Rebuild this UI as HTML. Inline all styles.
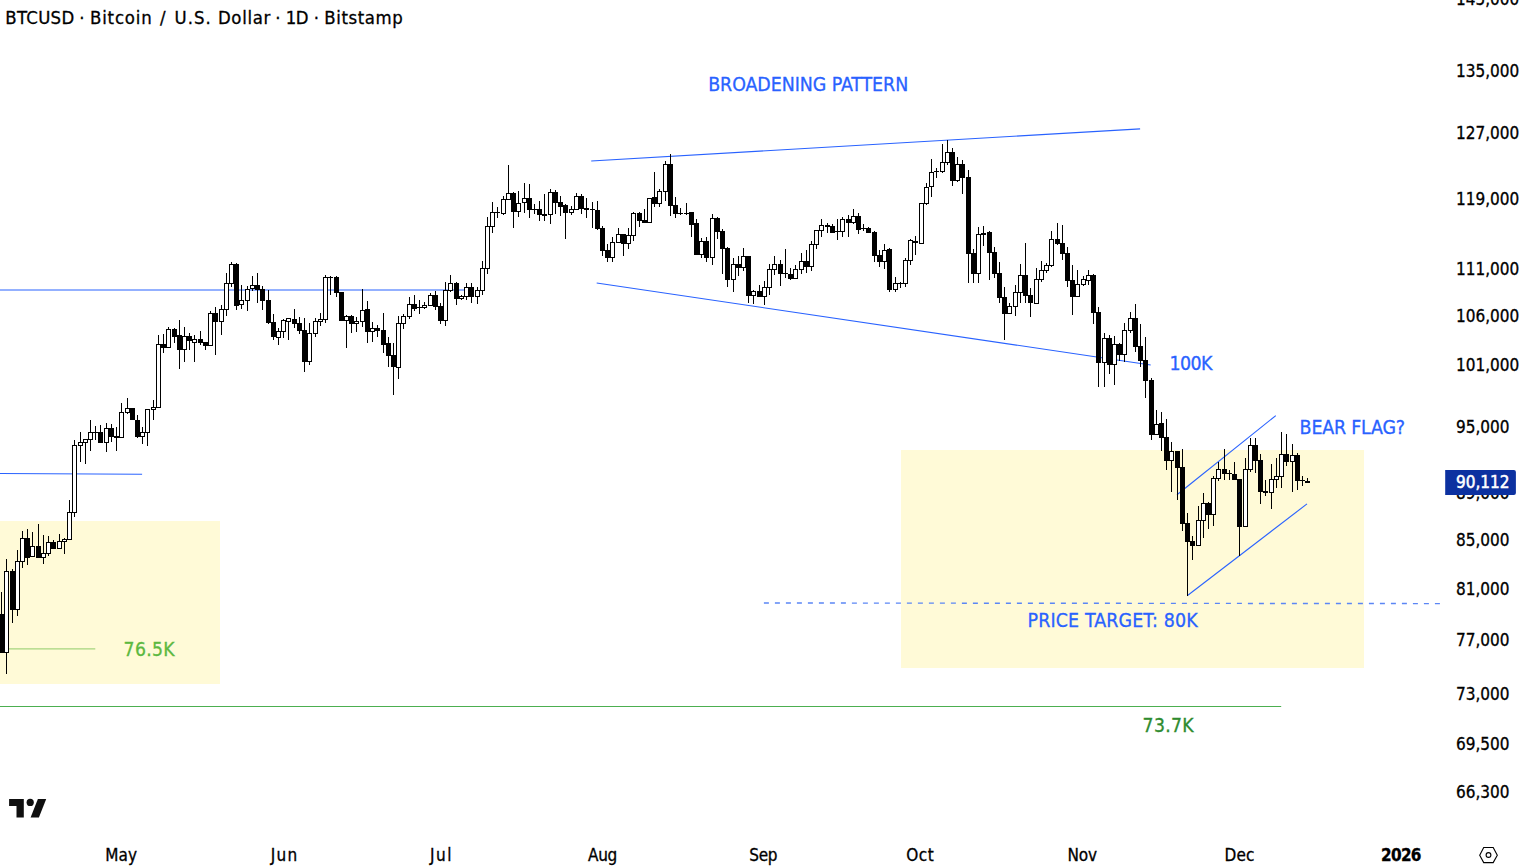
<!DOCTYPE html>
<html><head><meta charset="utf-8"><title>BTCUSD chart</title>
<style>
html,body{margin:0;padding:0;background:#fff;}
body{width:1523px;height:868px;overflow:hidden;position:relative;}
svg{display:block;position:absolute;left:0;top:0;}
</style></head><body>
<svg width="1523" height="868" viewBox="0 0 1523 868"><rect x="0" y="521" width="220" height="163" fill="#fffad7"/><rect x="901" y="450" width="463" height="218" fill="#fffad7"/><line x1="0" y1="290.0" x2="466" y2="290.0" stroke="#2962ff" stroke-width="1"/><line x1="0" y1="473.45" x2="142.1" y2="474.3" stroke="#2962ff" stroke-width="1.15"/><g stroke="#2962ff" stroke-width="1.1" fill="none"><line x1="591.2" y1="161.0" x2="1140.1" y2="128.9"/><line x1="596.7" y1="283.0" x2="1150.7" y2="365.0"/><line x1="1177" y1="494.8" x2="1275.8" y2="415.6"/><line x1="1187.2" y1="595.7" x2="1307" y2="503.9"/></g><line x1="763.9" y1="603.0" x2="1440.5" y2="603.6" stroke="#5b86f5" stroke-width="1.4" stroke-dasharray="5 6"/><line x1="0" y1="648.9" x2="95.3" y2="648.9" stroke="#a6d47e" stroke-width="1.4"/><line x1="0" y1="706.5" x2="1281.2" y2="706.5" stroke="#4caf50" stroke-width="1"/><path d="M1.50 592.00V653.00M6.50 559.00V674.00M12.50 569.00V623.00M17.50 550.00V616.00M22.50 531.00V568.00M27.50 529.00V565.00M32.50 532.00V557.00M38.50 524.00V558.00M43.50 535.00V564.00M48.50 536.00V556.00M53.50 540.00V549.00M59.50 534.00V548.00M64.50 538.00V554.00M69.50 500.00V540.00M74.50 440.00V517.00M80.50 432.00V462.00M85.50 440.00V464.00M90.50 420.00V451.00M95.50 426.00V440.00M100.50 425.00V442.00M106.50 423.00V452.00M111.50 424.00V442.00M116.50 427.00V451.00M121.50 403.00V438.00M127.50 398.00V414.00M132.50 408.00V420.00M137.50 415.00V438.00M142.50 427.00V444.00M147.50 409.00V446.00M153.50 400.00V420.00M158.50 335.00V407.00M163.50 334.00V353.00M168.50 327.00V347.00M174.50 328.00V343.00M179.50 320.00V369.00M184.50 327.00V362.00M189.50 333.00V350.00M194.50 335.00V362.00M200.50 331.00V345.00M205.50 342.00V350.00M210.50 311.00V346.00M215.50 307.00V355.00M221.50 305.00V335.00M226.50 273.00V316.00M231.50 262.00V287.00M236.50 263.00V310.00M241.50 285.00V309.00M247.50 286.00V311.00M252.50 276.00V291.00M257.50 273.00V303.00M262.50 286.00V310.00M268.50 290.00V324.00M273.50 314.00V340.00M278.50 328.00V345.00M283.50 319.00V338.00M288.50 318.00V340.00M294.50 309.00V328.00M299.50 317.00V334.00M304.50 318.00V372.00M309.50 323.00V365.00M315.50 318.00V337.00M320.50 313.00V326.00M325.50 275.00V323.00M330.50 276.00V295.00M336.50 276.00V297.00M341.50 292.00V321.00M346.50 315.00V348.00M351.50 315.00V333.00M356.50 317.00V332.00M362.50 289.00V327.00M367.50 301.00V343.00M372.50 322.00V342.00M377.50 325.00V337.00M383.50 313.00V353.00M388.50 337.00V367.00M393.50 343.00V395.00M398.50 316.00V379.00M403.50 314.00V329.00M409.50 297.00V319.00M414.50 295.00V311.00M419.50 300.00V314.00M424.50 302.00V309.00M430.50 293.00V305.00M435.50 291.00V310.00M440.50 303.00V324.00M445.50 282.00V326.00M450.50 275.00V292.00M456.50 282.00V305.00M461.50 295.00V300.00M466.50 283.00V300.00M471.50 283.00V303.00M477.50 287.00V304.00M482.50 261.00V295.00M487.50 217.00V274.00M492.50 202.00V233.00M497.50 207.00V218.00M503.50 196.00V215.00M508.50 165.00V199.00M513.50 192.00V228.00M518.50 191.00V217.00M524.50 183.00V213.00M529.50 184.00V218.00M534.50 204.00V214.00M539.50 201.00V221.00M544.50 194.00V221.00M550.50 189.00V224.00M555.50 190.00V214.00M560.50 196.00V216.00M565.50 204.00V239.00M571.50 206.00V215.00M576.50 193.00V210.00M581.50 194.00V214.00M586.50 198.00V218.00M592.50 202.00V228.00M597.50 201.00V230.00M602.50 226.00V256.00M607.50 244.00V262.00M612.50 237.00V262.00M618.50 228.00V242.00M623.50 234.00V256.00M628.50 228.00V249.00M633.50 212.00V241.00M639.50 212.00V227.00M644.50 209.00V222.00M649.50 198.00V222.00M654.50 172.00V207.00M659.50 189.00V207.00M665.50 161.00V201.00M670.50 154.00V216.00M675.50 197.00V218.00M680.50 208.00V215.00M686.50 203.00V215.00M691.50 213.00V237.00M696.50 219.00V255.00M701.50 238.00V258.00M706.50 237.00V262.00M712.50 214.00V265.00M717.50 217.00V239.00M722.50 229.00V274.00M727.50 247.00V287.00M733.50 258.00V292.00M738.50 256.00V276.00M743.50 248.00V271.00M748.50 256.00V303.00M753.50 290.00V304.00M759.50 285.00V297.00M764.50 281.00V305.00M769.50 264.00V295.00M774.50 256.00V275.00M780.50 260.00V286.00M785.50 249.00V278.00M790.50 268.00V280.00M795.50 265.00V279.00M801.50 253.00V274.00M806.50 250.00V273.00M811.50 241.00V271.00M816.50 230.00V249.00M821.50 219.00V237.00M827.50 223.00V233.00M832.50 224.00V233.00M837.50 219.00V240.00M842.50 217.00V237.00M848.50 215.00V237.00M853.50 209.00V224.00M858.50 213.00V234.00M863.50 224.00V231.00M868.50 227.00V233.00M874.50 231.00V262.00M879.50 250.00V267.00M884.50 244.00V269.00M889.50 248.00V292.00M895.50 277.00V292.00M900.50 282.00V288.00M905.50 258.00V287.00M910.50 239.00V265.00M915.50 236.00V255.00M921.50 203.00V243.00M926.50 183.00V205.00M931.50 159.00V197.00M936.50 168.00V178.00M942.50 144.00V173.00M947.50 140.00V165.00M952.50 148.00V186.00M957.50 157.00V182.00M962.50 160.00V194.00M968.50 170.00V283.00M973.50 249.00V283.00M978.50 227.00V283.00M983.50 226.00V246.00M989.50 231.00V280.00M994.50 247.00V278.00M999.50 262.00V303.00M1004.50 287.00V340.00M1009.50 303.00V314.00M1015.50 285.00V316.00M1020.50 264.00V303.00M1025.50 243.00V303.00M1030.50 288.00V317.00M1036.50 268.00V303.00M1041.50 261.00V282.00M1046.50 263.00V273.00M1051.50 231.00V267.00M1057.50 223.00V245.00M1062.50 225.00V260.00M1067.50 247.00V287.00M1072.50 265.00V315.00M1077.50 270.00V297.00M1083.50 276.00V286.00M1088.50 270.00V285.00M1093.50 274.00V324.00M1098.50 307.00V387.00M1104.50 333.00V387.00M1109.50 335.00V374.00M1114.50 336.00V385.00M1119.50 343.00V361.00M1124.50 323.00V362.00M1130.50 312.00V333.00M1135.50 304.00V352.00M1140.50 324.00V367.00M1145.50 337.00V398.00M1151.50 378.00V440.00M1156.50 410.00V434.00M1161.50 412.00V451.00M1166.50 419.00V470.00M1171.50 442.00V492.00M1177.50 451.00V500.00M1182.50 449.00V531.00M1187.50 513.00V596.00M1192.50 536.00V560.00M1198.50 506.00V546.00M1203.50 493.00V538.00M1208.50 502.00V529.00M1213.50 476.00V526.00M1218.50 462.00V481.00M1224.50 449.00V480.00M1229.50 470.00V480.00M1234.50 462.00V479.00M1239.50 479.00V556.00M1245.50 458.00V526.00M1250.50 438.00V472.00M1255.50 438.00V473.00M1260.50 454.00V504.00M1265.50 480.00V496.00M1271.50 464.00V509.00M1276.50 458.00V488.00M1281.50 432.00V488.00M1286.50 434.00V466.00M1292.50 444.00V492.00M1297.50 453.00V490.00M1302.50 476.00V486.00M1307.50 478.00V483.00" stroke="#000" stroke-width="1" fill="none"/><g fill="#000"><rect x="-1.00" y="614.00" width="5.00" height="39.00"/><rect x="10.00" y="571.00" width="5.00" height="39.00"/><rect x="25.00" y="538.00" width="5.00" height="20.00"/><rect x="36.00" y="546.00" width="5.00" height="12.00"/><rect x="51.00" y="542.00" width="5.00" height="7.00"/><rect x="93.00" y="432.00" width="5.00" height="1.00"/><rect x="98.00" y="432.00" width="5.00" height="11.00"/><rect x="109.00" y="428.00" width="5.00" height="9.00"/><rect x="114.00" y="436.00" width="5.00" height="2.00"/><rect x="130.00" y="408.00" width="5.00" height="12.00"/><rect x="135.00" y="420.00" width="5.00" height="17.00"/><rect x="161.00" y="344.00" width="5.00" height="4.00"/><rect x="172.00" y="329.00" width="5.00" height="8.00"/><rect x="177.00" y="335.00" width="5.00" height="15.00"/><rect x="187.00" y="336.00" width="5.00" height="5.00"/><rect x="198.00" y="339.00" width="5.00" height="4.00"/><rect x="203.00" y="342.00" width="5.00" height="4.00"/><rect x="213.00" y="313.00" width="5.00" height="9.00"/><rect x="234.00" y="264.00" width="5.00" height="42.00"/><rect x="255.00" y="285.00" width="5.00" height="5.00"/><rect x="260.00" y="289.00" width="5.00" height="12.00"/><rect x="266.00" y="300.00" width="5.00" height="23.00"/><rect x="271.00" y="322.00" width="5.00" height="15.00"/><rect x="292.00" y="319.00" width="5.00" height="5.00"/><rect x="297.00" y="323.00" width="5.00" height="8.00"/><rect x="302.00" y="330.00" width="5.00" height="32.00"/><rect x="334.00" y="277.00" width="5.00" height="16.00"/><rect x="339.00" y="292.00" width="5.00" height="29.00"/><rect x="349.00" y="316.00" width="5.00" height="8.00"/><rect x="365.00" y="309.00" width="5.00" height="23.00"/><rect x="375.00" y="328.00" width="5.00" height="3.00"/><rect x="381.00" y="330.00" width="5.00" height="15.00"/><rect x="386.00" y="343.00" width="5.00" height="13.00"/><rect x="391.00" y="355.00" width="5.00" height="12.00"/><rect x="412.00" y="304.00" width="5.00" height="5.00"/><rect x="417.00" y="307.00" width="5.00" height="1.00"/><rect x="433.00" y="295.00" width="5.00" height="12.00"/><rect x="438.00" y="306.00" width="5.00" height="15.00"/><rect x="454.00" y="283.00" width="5.00" height="16.00"/><rect x="469.00" y="287.00" width="5.00" height="10.00"/><rect x="511.00" y="193.00" width="5.00" height="19.00"/><rect x="527.00" y="198.00" width="5.00" height="12.00"/><rect x="532.00" y="209.00" width="5.00" height="1.00"/><rect x="537.00" y="209.00" width="5.00" height="6.00"/><rect x="542.00" y="214.00" width="5.00" height="2.00"/><rect x="553.00" y="192.00" width="5.00" height="11.00"/><rect x="558.00" y="202.00" width="5.00" height="5.00"/><rect x="563.00" y="205.00" width="5.00" height="8.00"/><rect x="579.00" y="196.00" width="5.00" height="13.00"/><rect x="584.00" y="208.00" width="5.00" height="2.00"/><rect x="590.00" y="209.00" width="5.00" height="1.00"/><rect x="595.00" y="210.00" width="5.00" height="19.00"/><rect x="600.00" y="228.00" width="5.00" height="23.00"/><rect x="605.00" y="250.00" width="5.00" height="8.00"/><rect x="621.00" y="234.00" width="5.00" height="10.00"/><rect x="637.00" y="213.00" width="5.00" height="8.00"/><rect x="642.00" y="220.00" width="5.00" height="3.00"/><rect x="652.00" y="197.00" width="5.00" height="7.00"/><rect x="668.00" y="164.00" width="5.00" height="42.00"/><rect x="673.00" y="205.00" width="5.00" height="9.00"/><rect x="678.00" y="213.00" width="5.00" height="1.00"/><rect x="684.00" y="213.00" width="5.00" height="1.00"/><rect x="689.00" y="212.00" width="5.00" height="13.00"/><rect x="694.00" y="223.00" width="5.00" height="32.00"/><rect x="704.00" y="241.00" width="5.00" height="17.00"/><rect x="715.00" y="218.00" width="5.00" height="14.00"/><rect x="720.00" y="231.00" width="5.00" height="18.00"/><rect x="725.00" y="248.00" width="5.00" height="32.00"/><rect x="736.00" y="264.00" width="5.00" height="4.00"/><rect x="746.00" y="256.00" width="5.00" height="40.00"/><rect x="757.00" y="291.00" width="5.00" height="6.00"/><rect x="778.00" y="264.00" width="5.00" height="10.00"/><rect x="783.00" y="273.00" width="5.00" height="1.00"/><rect x="788.00" y="274.00" width="5.00" height="5.00"/><rect x="804.00" y="261.00" width="5.00" height="6.00"/><rect x="825.00" y="225.00" width="5.00" height="2.00"/><rect x="830.00" y="226.00" width="5.00" height="7.00"/><rect x="835.00" y="231.00" width="5.00" height="1.00"/><rect x="846.00" y="219.00" width="5.00" height="4.00"/><rect x="856.00" y="216.00" width="5.00" height="14.00"/><rect x="861.00" y="228.00" width="5.00" height="1.00"/><rect x="866.00" y="228.00" width="5.00" height="5.00"/><rect x="872.00" y="232.00" width="5.00" height="24.00"/><rect x="877.00" y="255.00" width="5.00" height="7.00"/><rect x="887.00" y="249.00" width="5.00" height="41.00"/><rect x="913.00" y="241.00" width="5.00" height="2.00"/><rect x="950.00" y="152.00" width="5.00" height="29.00"/><rect x="960.00" y="164.00" width="5.00" height="14.00"/><rect x="966.00" y="177.00" width="5.00" height="77.00"/><rect x="971.00" y="253.00" width="5.00" height="21.00"/><rect x="981.00" y="233.00" width="5.00" height="2.00"/><rect x="987.00" y="232.00" width="5.00" height="21.00"/><rect x="992.00" y="252.00" width="5.00" height="22.00"/><rect x="997.00" y="273.00" width="5.00" height="25.00"/><rect x="1002.00" y="297.00" width="5.00" height="17.00"/><rect x="1023.00" y="275.00" width="5.00" height="21.00"/><rect x="1028.00" y="295.00" width="5.00" height="8.00"/><rect x="1055.00" y="239.00" width="5.00" height="5.00"/><rect x="1060.00" y="243.00" width="5.00" height="11.00"/><rect x="1065.00" y="253.00" width="5.00" height="28.00"/><rect x="1070.00" y="280.00" width="5.00" height="17.00"/><rect x="1091.00" y="275.00" width="5.00" height="38.00"/><rect x="1096.00" y="312.00" width="5.00" height="51.00"/><rect x="1107.00" y="338.00" width="5.00" height="27.00"/><rect x="1117.00" y="344.00" width="5.00" height="11.00"/><rect x="1133.00" y="318.00" width="5.00" height="29.00"/><rect x="1138.00" y="346.00" width="5.00" height="15.00"/><rect x="1143.00" y="360.00" width="5.00" height="21.00"/><rect x="1149.00" y="380.00" width="5.00" height="55.00"/><rect x="1159.00" y="423.00" width="5.00" height="15.00"/><rect x="1164.00" y="437.00" width="5.00" height="24.00"/><rect x="1175.00" y="451.00" width="5.00" height="17.00"/><rect x="1180.00" y="467.00" width="5.00" height="57.00"/><rect x="1185.00" y="523.00" width="5.00" height="19.00"/><rect x="1190.00" y="541.00" width="5.00" height="5.00"/><rect x="1206.00" y="503.00" width="5.00" height="12.00"/><rect x="1222.00" y="469.00" width="5.00" height="5.00"/><rect x="1227.00" y="473.00" width="5.00" height="1.00"/><rect x="1232.00" y="474.00" width="5.00" height="6.00"/><rect x="1237.00" y="479.00" width="5.00" height="48.00"/><rect x="1253.00" y="445.00" width="5.00" height="16.00"/><rect x="1258.00" y="460.00" width="5.00" height="32.00"/><rect x="1263.00" y="491.00" width="5.00" height="2.00"/><rect x="1284.00" y="454.00" width="5.00" height="8.00"/><rect x="1295.00" y="455.00" width="5.00" height="26.00"/><rect x="1305.00" y="481.00" width="5.00" height="2.00"/></g><g fill="#fff" stroke="#000" stroke-width="1.0"><rect x="4.50" y="571.50" width="4.00" height="81.00"/><rect x="15.50" y="561.50" width="4.00" height="48.00"/><rect x="20.50" y="538.50" width="4.00" height="23.00"/><rect x="30.50" y="546.50" width="4.00" height="10.00"/><rect x="41.50" y="553.50" width="4.00" height="4.00"/><rect x="46.50" y="542.50" width="4.00" height="11.00"/><rect x="57.50" y="541.50" width="4.00" height="7.00"/><rect x="62.50" y="539.50" width="4.00" height="2.00"/><rect x="67.50" y="512.50" width="4.00" height="27.00"/><rect x="72.50" y="445.50" width="4.00" height="67.00"/><rect x="78.50" y="442.50" width="4.00" height="3.00"/><rect x="83.50" y="439.50" width="4.00" height="3.00"/><rect x="88.50" y="432.50" width="4.00" height="7.00"/><rect x="104.50" y="428.50" width="4.00" height="14.00"/><rect x="119.50" y="412.50" width="4.00" height="25.00"/><rect x="125.50" y="408.50" width="4.00" height="4.00"/><rect x="140.50" y="432.50" width="4.00" height="4.00"/><rect x="145.50" y="409.50" width="4.00" height="23.00"/><rect x="151.50" y="407.50" width="4.00" height="2.00"/><rect x="156.50" y="344.50" width="4.00" height="63.00"/><rect x="166.50" y="329.50" width="4.00" height="18.00"/><rect x="182.50" y="336.50" width="4.00" height="13.00"/><rect x="192.50" y="339.50" width="4.00" height="3.00"/><rect x="208.50" y="313.50" width="4.00" height="32.00"/><rect x="219.50" y="309.50" width="4.00" height="12.00"/><rect x="224.50" y="283.50" width="4.00" height="26.00"/><rect x="229.50" y="264.50" width="4.00" height="19.00"/><rect x="239.50" y="300.50" width="4.00" height="4.00"/><rect x="245.50" y="289.50" width="4.00" height="11.00"/><rect x="250.50" y="285.50" width="4.00" height="3.00"/><rect x="276.50" y="331.50" width="4.00" height="6.00"/><rect x="281.50" y="320.50" width="4.00" height="11.00"/><rect x="286.50" y="318.50" width="4.00" height="3.00"/><rect x="307.50" y="333.50" width="4.00" height="28.00"/><rect x="313.50" y="321.50" width="4.00" height="12.00"/><rect x="318.50" y="319.50" width="4.00" height="2.00"/><rect x="323.50" y="277.50" width="4.00" height="42.00"/><rect x="328.50" y="277.50" width="4.00" height="0.01"/><rect x="344.50" y="316.50" width="4.00" height="4.00"/><rect x="354.50" y="321.50" width="4.00" height="2.00"/><rect x="360.50" y="310.50" width="4.00" height="11.00"/><rect x="370.50" y="328.50" width="4.00" height="3.00"/><rect x="396.50" y="323.50" width="4.00" height="44.00"/><rect x="401.50" y="316.50" width="4.00" height="7.00"/><rect x="407.50" y="304.50" width="4.00" height="12.00"/><rect x="422.50" y="305.50" width="4.00" height="2.00"/><rect x="428.50" y="295.50" width="4.00" height="10.00"/><rect x="443.50" y="290.50" width="4.00" height="30.00"/><rect x="448.50" y="283.50" width="4.00" height="7.00"/><rect x="459.50" y="296.50" width="4.00" height="2.00"/><rect x="464.50" y="287.50" width="4.00" height="9.00"/><rect x="475.50" y="290.50" width="4.00" height="6.00"/><rect x="480.50" y="268.50" width="4.00" height="22.00"/><rect x="485.50" y="226.50" width="4.00" height="42.00"/><rect x="490.50" y="212.50" width="4.00" height="14.00"/><rect x="495.50" y="212.50" width="4.00" height="0.01"/><rect x="501.50" y="199.50" width="4.00" height="14.00"/><rect x="506.50" y="193.50" width="4.00" height="6.00"/><rect x="516.50" y="203.50" width="4.00" height="8.00"/><rect x="522.50" y="198.50" width="4.00" height="4.00"/><rect x="548.50" y="192.50" width="4.00" height="22.00"/><rect x="569.50" y="209.50" width="4.00" height="3.00"/><rect x="574.50" y="196.50" width="4.00" height="13.00"/><rect x="610.50" y="242.50" width="4.00" height="15.00"/><rect x="616.50" y="234.50" width="4.00" height="8.00"/><rect x="626.50" y="235.50" width="4.00" height="8.00"/><rect x="631.50" y="213.50" width="4.00" height="22.00"/><rect x="647.50" y="198.50" width="4.00" height="24.00"/><rect x="657.50" y="191.50" width="4.00" height="12.00"/><rect x="663.50" y="164.50" width="4.00" height="27.00"/><rect x="699.50" y="241.50" width="4.00" height="13.00"/><rect x="710.50" y="218.50" width="4.00" height="39.00"/><rect x="731.50" y="264.50" width="4.00" height="15.00"/><rect x="741.50" y="256.50" width="4.00" height="11.00"/><rect x="751.50" y="291.50" width="4.00" height="4.00"/><rect x="762.50" y="287.50" width="4.00" height="9.00"/><rect x="767.50" y="269.50" width="4.00" height="18.00"/><rect x="772.50" y="264.50" width="4.00" height="5.00"/><rect x="793.50" y="269.50" width="4.00" height="9.00"/><rect x="799.50" y="261.50" width="4.00" height="8.00"/><rect x="809.50" y="244.50" width="4.00" height="22.00"/><rect x="814.50" y="230.50" width="4.00" height="14.00"/><rect x="819.50" y="225.50" width="4.00" height="5.00"/><rect x="840.50" y="219.50" width="4.00" height="12.00"/><rect x="851.50" y="216.50" width="4.00" height="6.00"/><rect x="882.50" y="250.50" width="4.00" height="11.00"/><rect x="893.50" y="283.50" width="4.00" height="6.00"/><rect x="898.50" y="283.50" width="4.00" height="0.01"/><rect x="903.50" y="260.50" width="4.00" height="23.00"/><rect x="908.50" y="240.50" width="4.00" height="20.00"/><rect x="919.50" y="203.50" width="4.00" height="40.00"/><rect x="924.50" y="187.50" width="4.00" height="16.00"/><rect x="929.50" y="172.50" width="4.00" height="14.00"/><rect x="934.50" y="171.50" width="4.00" height="0.01"/><rect x="940.50" y="162.50" width="4.00" height="9.00"/><rect x="945.50" y="152.50" width="4.00" height="10.00"/><rect x="955.50" y="164.50" width="4.00" height="16.00"/><rect x="976.50" y="234.50" width="4.00" height="39.00"/><rect x="1007.50" y="306.50" width="4.00" height="7.00"/><rect x="1013.50" y="292.50" width="4.00" height="14.00"/><rect x="1018.50" y="275.50" width="4.00" height="17.00"/><rect x="1034.50" y="279.50" width="4.00" height="24.00"/><rect x="1039.50" y="270.50" width="4.00" height="9.00"/><rect x="1044.50" y="265.50" width="4.00" height="5.00"/><rect x="1049.50" y="239.50" width="4.00" height="26.00"/><rect x="1075.50" y="284.50" width="4.00" height="12.00"/><rect x="1081.50" y="279.50" width="4.00" height="5.00"/><rect x="1086.50" y="275.50" width="4.00" height="5.00"/><rect x="1102.50" y="338.50" width="4.00" height="24.00"/><rect x="1112.50" y="344.50" width="4.00" height="20.00"/><rect x="1122.50" y="330.50" width="4.00" height="24.00"/><rect x="1128.50" y="318.50" width="4.00" height="12.00"/><rect x="1154.50" y="424.50" width="4.00" height="10.00"/><rect x="1169.50" y="451.50" width="4.00" height="9.00"/><rect x="1196.50" y="520.50" width="4.00" height="25.00"/><rect x="1201.50" y="503.50" width="4.00" height="17.00"/><rect x="1211.50" y="478.50" width="4.00" height="36.00"/><rect x="1216.50" y="469.50" width="4.00" height="9.00"/><rect x="1243.50" y="469.50" width="4.00" height="57.00"/><rect x="1248.50" y="445.50" width="4.00" height="24.00"/><rect x="1269.50" y="479.50" width="4.00" height="13.00"/><rect x="1274.50" y="476.50" width="4.00" height="3.00"/><rect x="1279.50" y="454.50" width="4.00" height="22.00"/><rect x="1290.50" y="455.50" width="4.00" height="6.00"/><rect x="1300.50" y="480.50" width="4.00" height="0.01"/></g><text x="708.2" y="91.2" style="font-family:'DejaVu Sans',sans-serif;font-stretch:condensed;font-size:19.4px;font-weight:normal;" fill="#2962ff" stroke="#2962ff" stroke-width="0.3" text-anchor="start" textLength="200" >BROADENING PATTERN</text><text x="1169.4" y="369.9" style="font-family:'DejaVu Sans',sans-serif;font-stretch:condensed;font-size:19.4px;font-weight:normal;" fill="#2962ff" stroke="#2962ff" stroke-width="0.3" text-anchor="start" textLength="43" >100K</text><text x="1299.6" y="434" style="font-family:'DejaVu Sans',sans-serif;font-stretch:condensed;font-size:19.4px;font-weight:normal;" fill="#2962ff" stroke="#2962ff" stroke-width="0.3" text-anchor="start" textLength="105.5" >BEAR FLAG?</text><text x="1027.6" y="627.0" style="font-family:'DejaVu Sans',sans-serif;font-stretch:condensed;font-size:19.4px;font-weight:normal;" fill="#2962ff" stroke="#2962ff" stroke-width="0.3" text-anchor="start" textLength="170" >PRICE TARGET: 80K</text><text x="1142.6" y="731.9" style="font-family:'DejaVu Sans',sans-serif;font-stretch:condensed;font-size:19.2px;font-weight:normal;" fill="#2e8b2e" stroke="#2e8b2e" stroke-width="0.3" text-anchor="start" textLength="51" >73.7K</text><text x="123.6" y="655.9" style="font-family:'DejaVu Sans',sans-serif;font-stretch:condensed;font-size:19.2px;font-weight:normal;" fill="#5cb83f" stroke="#5cb83f" stroke-width="0.3" text-anchor="start" textLength="51" >76.5K</text><text x="5.2" y="23.7" style="font-family:'DejaVu Sans',sans-serif;font-stretch:condensed;font-size:18.4px;font-weight:normal;" fill="#000000" stroke="#000000" stroke-width="0.3" text-anchor="start" textLength="69.0" >BTCUSD</text><text x="90.0" y="23.7" style="font-family:'DejaVu Sans',sans-serif;font-stretch:condensed;font-size:18.4px;font-weight:normal;" fill="#000000" stroke="#000000" stroke-width="0.3" text-anchor="start" textLength="61.73" >Bitcoin</text><text x="159.9" y="23.7" style="font-family:'DejaVu Sans',sans-serif;font-stretch:condensed;font-size:18.4px;font-weight:normal;" fill="#000000" stroke="#000000" stroke-width="0.3" text-anchor="start" >/</text><text x="174.5" y="23.7" style="font-family:'DejaVu Sans',sans-serif;font-stretch:condensed;font-size:18.4px;font-weight:normal;" fill="#000000" stroke="#000000" stroke-width="0.3" text-anchor="start" textLength="36.24" >U.S.</text><text x="217.9" y="23.7" style="font-family:'DejaVu Sans',sans-serif;font-stretch:condensed;font-size:18.4px;font-weight:normal;" fill="#000000" stroke="#000000" stroke-width="0.3" text-anchor="start" textLength="52.5" >Dollar</text><text x="285.7" y="23.7" style="font-family:'DejaVu Sans',sans-serif;font-stretch:condensed;font-size:18.4px;font-weight:normal;" fill="#000000" stroke="#000000" stroke-width="0.3" text-anchor="start" textLength="22.78" >1D</text><text x="324.3" y="23.7" style="font-family:'DejaVu Sans',sans-serif;font-stretch:condensed;font-size:18.4px;font-weight:normal;" fill="#000000" stroke="#000000" stroke-width="0.3" text-anchor="start" textLength="78.41" >Bitstamp</text><text x="82.0" y="23.7" style="font-family:'DejaVu Sans',sans-serif;font-stretch:condensed;font-size:18.4px;font-weight:normal;" fill="#000000" stroke="#000000" stroke-width="0.3" text-anchor="middle" >·</text><text x="278.0" y="23.7" style="font-family:'DejaVu Sans',sans-serif;font-stretch:condensed;font-size:18.4px;font-weight:normal;" fill="#000000" stroke="#000000" stroke-width="0.3" text-anchor="middle" >·</text><text x="316.4" y="23.7" style="font-family:'DejaVu Sans',sans-serif;font-stretch:condensed;font-size:18.4px;font-weight:normal;" fill="#000000" stroke="#000000" stroke-width="0.3" text-anchor="middle" >·</text><text x="1456" y="4.63" style="font-family:'DejaVu Sans',sans-serif;font-stretch:condensed;font-size:17.0px;font-weight:normal;" fill="#000000" stroke="#000000" stroke-width="0.3" text-anchor="start" >145,000</text><text x="1456" y="77.05" style="font-family:'DejaVu Sans',sans-serif;font-stretch:condensed;font-size:17.0px;font-weight:normal;" fill="#000000" stroke="#000000" stroke-width="0.3" text-anchor="start" >135,000</text><text x="1456" y="138.96" style="font-family:'DejaVu Sans',sans-serif;font-stretch:condensed;font-size:17.0px;font-weight:normal;" fill="#000000" stroke="#000000" stroke-width="0.3" text-anchor="start" >127,000</text><text x="1456" y="204.9" style="font-family:'DejaVu Sans',sans-serif;font-stretch:condensed;font-size:17.0px;font-weight:normal;" fill="#000000" stroke="#000000" stroke-width="0.3" text-anchor="start" >119,000</text><text x="1456" y="275.44" style="font-family:'DejaVu Sans',sans-serif;font-stretch:condensed;font-size:17.0px;font-weight:normal;" fill="#000000" stroke="#000000" stroke-width="0.3" text-anchor="start" >111,000</text><text x="1456" y="322.15" style="font-family:'DejaVu Sans',sans-serif;font-stretch:condensed;font-size:17.0px;font-weight:normal;" fill="#000000" stroke="#000000" stroke-width="0.3" text-anchor="start" >106,000</text><text x="1456" y="371.12" style="font-family:'DejaVu Sans',sans-serif;font-stretch:condensed;font-size:17.0px;font-weight:normal;" fill="#000000" stroke="#000000" stroke-width="0.3" text-anchor="start" >101,000</text><text x="1456" y="433.19" style="font-family:'DejaVu Sans',sans-serif;font-stretch:condensed;font-size:17.0px;font-weight:normal;" fill="#000000" stroke="#000000" stroke-width="0.3" text-anchor="start" >95,000</text><text x="1456" y="499.31" style="font-family:'DejaVu Sans',sans-serif;font-stretch:condensed;font-size:17.0px;font-weight:normal;" fill="#000000" stroke="#000000" stroke-width="0.3" text-anchor="start" >89,000</text><text x="1456" y="545.92" style="font-family:'DejaVu Sans',sans-serif;font-stretch:condensed;font-size:17.0px;font-weight:normal;" fill="#000000" stroke="#000000" stroke-width="0.3" text-anchor="start" >85,000</text><text x="1456" y="594.77" style="font-family:'DejaVu Sans',sans-serif;font-stretch:condensed;font-size:17.0px;font-weight:normal;" fill="#000000" stroke="#000000" stroke-width="0.3" text-anchor="start" >81,000</text><text x="1456" y="646.1" style="font-family:'DejaVu Sans',sans-serif;font-stretch:condensed;font-size:17.0px;font-weight:normal;" fill="#000000" stroke="#000000" stroke-width="0.3" text-anchor="start" >77,000</text><text x="1456" y="700.17" style="font-family:'DejaVu Sans',sans-serif;font-stretch:condensed;font-size:17.0px;font-weight:normal;" fill="#000000" stroke="#000000" stroke-width="0.3" text-anchor="start" >73,000</text><text x="1456" y="749.96" style="font-family:'DejaVu Sans',sans-serif;font-stretch:condensed;font-size:17.0px;font-weight:normal;" fill="#000000" stroke="#000000" stroke-width="0.3" text-anchor="start" >69,500</text><text x="1456" y="797.73" style="font-family:'DejaVu Sans',sans-serif;font-stretch:condensed;font-size:17.0px;font-weight:normal;" fill="#000000" stroke="#000000" stroke-width="0.3" text-anchor="start" >66,300</text><path d="M1445.2 470 H1513.9 Q1515.9 470 1515.9 472 V492.9 Q1515.9 494.9 1513.9 494.9 H1445.2 Z" fill="#0c31a0"/><text x="1456" y="487.9" style="font-family:'DejaVu Sans',sans-serif;font-stretch:condensed;font-size:17.0px;font-weight:normal;" fill="#ffffff" stroke="#ffffff" stroke-width="0.5" text-anchor="start" >90,112</text><text x="105.2" y="861" style="font-family:'DejaVu Sans',sans-serif;font-stretch:condensed;font-size:17.0px;font-weight:normal;" fill="#000000" stroke="#000000" stroke-width="0.3" text-anchor="start" textLength="31.92" >May</text><text x="270.8" y="861" style="font-family:'DejaVu Sans',sans-serif;font-stretch:condensed;font-size:17.0px;font-weight:normal;" fill="#000000" stroke="#000000" stroke-width="0.3" text-anchor="start" textLength="26.51" >Jun</text><text x="429.9" y="861" style="font-family:'DejaVu Sans',sans-serif;font-stretch:condensed;font-size:17.0px;font-weight:normal;" fill="#000000" stroke="#000000" stroke-width="0.3" text-anchor="start" textLength="21.65" >Jul</text><text x="588.1" y="861" style="font-family:'DejaVu Sans',sans-serif;font-stretch:condensed;font-size:17.0px;font-weight:normal;" fill="#000000" stroke="#000000" stroke-width="0.3" text-anchor="start" textLength="29.07" >Aug</text><text x="749.2" y="861" style="font-family:'DejaVu Sans',sans-serif;font-stretch:condensed;font-size:17.0px;font-weight:normal;" fill="#000000" stroke="#000000" stroke-width="0.3" text-anchor="start" textLength="28.34" >Sep</text><text x="906.2" y="861" style="font-family:'DejaVu Sans',sans-serif;font-stretch:condensed;font-size:17.0px;font-weight:normal;" fill="#000000" stroke="#000000" stroke-width="0.3" text-anchor="start" textLength="27.65" >Oct</text><text x="1067.5" y="861" style="font-family:'DejaVu Sans',sans-serif;font-stretch:condensed;font-size:17.0px;font-weight:normal;" fill="#000000" stroke="#000000" stroke-width="0.3" text-anchor="start" textLength="29.44" >Nov</text><text x="1224.5" y="861" style="font-family:'DejaVu Sans',sans-serif;font-stretch:condensed;font-size:17.0px;font-weight:normal;" fill="#000000" stroke="#000000" stroke-width="0.3" text-anchor="start" textLength="30.01" >Dec</text><text x="1381" y="861" style="font-family:'DejaVu Sans',sans-serif;font-stretch:condensed;font-size:17.0px;font-weight:bold;" fill="#000000" stroke="#000000" stroke-width="0.3" text-anchor="start" textLength="40.48" >2026</text><g fill="#0f0f0f"><path d="M9.1 798.9H23.8V817.4H16.5V805.9H9.1Z"/><circle cx="30.2" cy="802.4" r="3.6"/><path d="M37.9 798.9H46.2L38.9 817.4H30.6Z"/></g><g fill="none" stroke="#000" stroke-width="1.1"><path d="M1479.7 855.3L1483.7 847.5H1493.2L1497.3 855.3L1493.2 862.6H1483.7Z"/><circle cx="1488.5" cy="855" r="2.4"/></g></svg>
</body></html>
